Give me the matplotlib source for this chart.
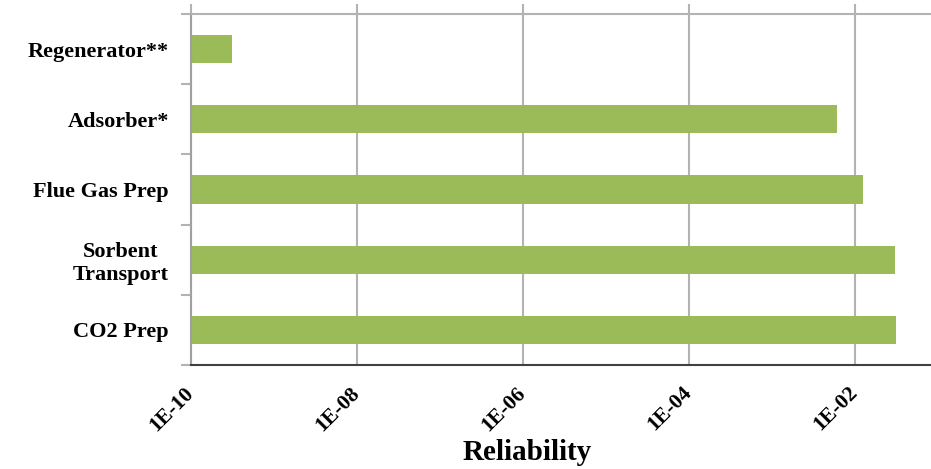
import matplotlib
matplotlib.use('Agg')
import matplotlib.pyplot as plt
import numpy as np

plt.rcParams['font.family'] = ['Liberation Serif', 'DejaVu Serif']
plt.rcParams['font.weight'] = 'bold'

# Subsystem reliability (top to bottom)
systems = ['Regenerator**', 'Adsorber*', 'Flue Gas Prep', 'Sorbent\nTransport', 'CO2 Prep']
reliability = [3.1e-10, 6.1e-3, 1.26e-2, 3.0e-2, 3.1e-2]
xticks = [1e-10, 1e-8, 1e-6, 1e-4, 1e-2]
xtick_labels = ['1E-10', '1E-08', '1E-06', '1E-04', '1E-02']

bar_color = '#9bbb59'
grid_color = '#b3b3b3'

fig = plt.figure(figsize=(9.31, 4.69), dpi=100)
# plot area runs on to 1E+00, past the right edge of the figure
ax = fig.add_axes([191 / 931, 104 / 469, 830 / 931, 351 / 469])

ypos = np.arange(len(systems))
ax.barh(ypos, reliability, height=0.4, left=1e-12, color=bar_color, zorder=2)

ax.set_xscale('log')
ax.set_xlim(1e-10, 1)
ax.set_ylim(len(systems) - 0.5, -0.5)

ax.set_xticks(xticks)
ax.set_xticklabels(xtick_labels, rotation=45, ha='right', va='center',
                   rotation_mode='anchor', fontsize=15.5, fontweight='bold')
ax.xaxis.set_minor_locator(matplotlib.ticker.NullLocator())
ax.tick_params(axis='x', which='major', bottom=False, top=True, length=7,
               width=1.5, color=grid_color, pad=11)
ax.grid(axis='x', color=grid_color, linewidth=1.5, zorder=0)

ax.set_yticks(ypos)
ax.set_yticklabels(systems, fontsize=16, fontweight='bold', linespacing=1.2)
for lbl in ax.get_yticklabels():
    lbl.set_multialignment('center')
ax.set_yticks(np.arange(-0.5, len(systems), 1.0), minor=True)
ax.tick_params(axis='y', which='major', length=0, pad=16)
ax.tick_params(axis='y', which='minor', length=7, width=1.5, color=grid_color)

ax.spines['top'].set_color(grid_color)
ax.spines['top'].set_linewidth(1.5)
ax.spines['left'].set_color('#a0a0a0')
ax.spines['left'].set_linewidth(1.5)
ax.spines['bottom'].set_color('#404040')
ax.spines['bottom'].set_linewidth(1.5)
ax.spines['right'].set_visible(False)

ax.set_xlabel('Reliability', fontsize=21, fontweight='bold')
ax.xaxis.set_label_coords((527 - 191) / 830, -0.21)

fig.savefig('out.png', dpi=100)
